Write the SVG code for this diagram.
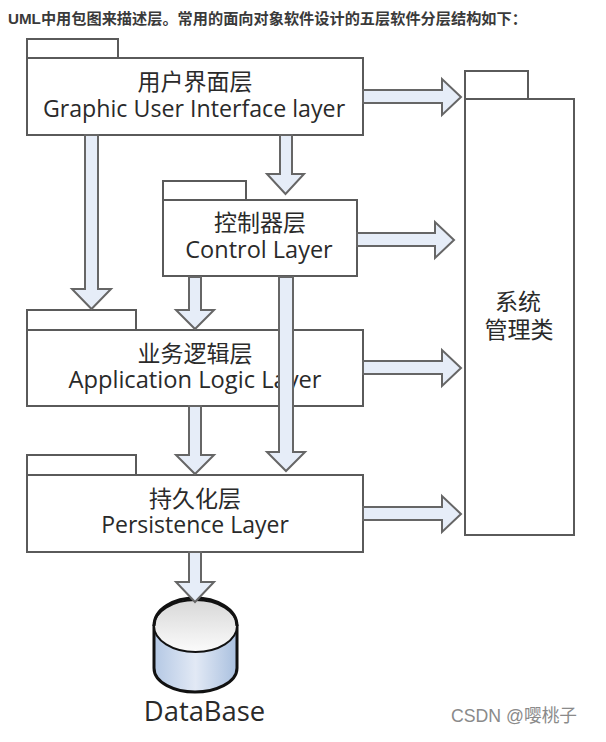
<svg xmlns="http://www.w3.org/2000/svg" width="606" height="742" viewBox="0 0 606 742">
<defs>
<style>
.box{fill:#fff;stroke:#5a5a5a;stroke-width:2}
.arr{fill:#e6edf8;stroke:#666;stroke-width:2;stroke-linejoin:miter}
.lab{font-family:"Open Sans","Noto Sans CJK SC",sans-serif;font-size:23px;fill:#2a2a2a;text-anchor:middle}
.cap{font-family:"Liberation Sans","Noto Sans CJK SC",sans-serif;font-size:15.200px;font-weight:bold;fill:#3a3a3a}
</style>
<linearGradient id="side" x1="0" x2="1" y1="0" y2="0"><stop offset="0" stop-color="#b4c8e4"/><stop offset=".5" stop-color="#e2e9f5"/><stop offset="1" stop-color="#a9c0df"/></linearGradient>
<linearGradient id="top" x1="0" x2="0" y1="0" y2="1"><stop offset="0" stop-color="#d8d8d8"/><stop offset="1" stop-color="#fbfbfb"/></linearGradient>
</defs>
<rect width="606" height="742" fill="#fff"/>
<text class="cap" x="8" y="24">UML中用包图来描述层。常用的面向对象软件设计的五层软件分层结构如下：</text>
<g id="node-gui"><path class="box" d="M27 58V39H118V58"/><rect class="box" x="27" y="58" width="336" height="77"/><text class="lab" x="195" y="90">用户界面层</text><text class="lab" x="194" y="117" style="font-size:23.200px">Graphic User Interface layer</text></g>
<g id="node-manager"><path class="box" d="M465 99V71H528V99"/><rect class="box" x="465" y="99" width="109" height="436"/><text class="lab" x="518" y="310">系统</text><text class="lab" x="519" y="338">管理类</text></g>
<g id="node-control"><path class="box" d="M163 200V181H246V200"/><rect class="box" x="163" y="200" width="194" height="76"/><text class="lab" x="260" y="231">控制器层</text><text class="lab" x="259" y="258" style="font-size:23.500px">Control Layer</text></g>
<g id="node-app"><path class="box" d="M27 330V310H136V330"/><rect class="box" x="27" y="330" width="336" height="76"/><text class="lab" x="195" y="362">业务逻辑层</text><text class="lab" x="195" y="388" style="font-size:23.700px">Application Logic Layer</text></g>
<g id="node-persist"><path class="box" d="M27 475V455H136V475"/><rect class="box" x="27" y="475" width="336" height="77"/><text class="lab" x="195" y="507">持久化层</text><text class="lab" x="195" y="533">Persistence Layer</text></g>
<g id="node-db">
<path d="M154 626V668C154 683 175 692 195 692C215 692 237 683 237 668V626Z" fill="url(#side)" stroke="#111" stroke-width="3"/>
<ellipse cx="195.500" cy="626" rx="41.500" ry="26" fill="url(#top)" stroke="#111" stroke-width="2"/>
<path d="M154 626C154 608 175 598 195 598C215 598 237 608 237 626" fill="none" stroke="#111" stroke-width="3"/>
<text class="lab" x="204.500" y="721" style="font-size:27.400px">DataBase</text></g>
<g id="connectors">
<path class="arr" d="M363 90H442V79L461 97L442 115V103H363Z"/>
<path class="arr" d="M357 233H435V222L454 240L435 258V246H357Z"/>
<path class="arr" d="M363 361H442V350L461 368L442 386V374H363Z"/>
<path class="arr" d="M363 507H442V496L461 514L442 532V520H363Z"/>
<path class="arr" d="M85 135H98V289H111L91.500 309L72 289H85Z"/>
<path class="arr" d="M280 135H292V174H304L285.500 194L267 174H280Z"/>
<path class="arr" d="M189 277H201V310H214L195 329L176 310H189Z"/>
<path class="arr" d="M189 406H201V455H214L195 474L176 455H189Z"/>
<path class="arr" d="M279 277H293V452H305L286 471L267 452H279Z"/>
<path class="arr" d="M189 552H201V582H214L195 602L176 582H189Z"/>
</g>
<text x="451" y="722" style="font-family:'Liberation Sans','Noto Sans CJK SC',sans-serif;font-size:17.700px;fill:#8a8a8a">CSDN @嘤桃子</text>
</svg>
